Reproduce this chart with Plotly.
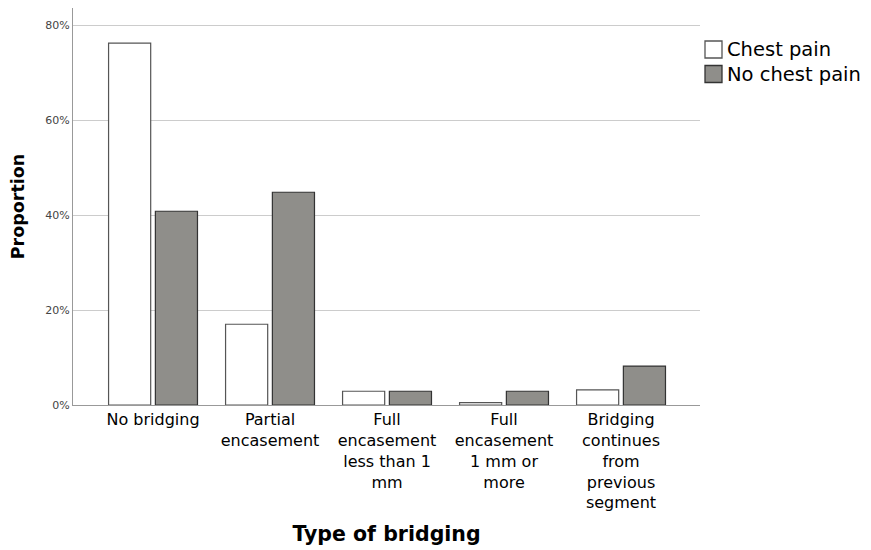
import plotly.graph_objects as go

categories = ["No bridging", "Partial<br>encasement", "Full<br>encasement<br>less than 1<br>mm",
              "Full<br>encasement<br>1 mm or<br>more", "Bridging<br>continues<br>from<br>previous<br>segment"]
series_names = ["Chest pain", "No chest pain"]
chest_pain = [0.762, 0.170, 0.029, 0.005, 0.032]
no_chest_pain = [0.408, 0.448, 0.029, 0.029, 0.082]
y_ticks = [0, 0.2, 0.4, 0.6, 0.8]
y_tick_labels = ["0%", "20%", "40%", "60%", "80%"]

fills = ["white", "#8f8e8a"]
outlines = ["#555555", "#333333"]

fig = go.Figure()
for name, vals, fc, lc in zip(series_names, [chest_pain, no_chest_pain], fills, outlines):
    fig.add_trace(go.Bar(name=name, x=categories, y=vals,
                         marker=dict(color=fc, line=dict(color=lc, width=1.2))))

# manual legend (boxes + text) placed at the right of the plot
W, H = 863, 542      # page has an 8px body margin
L, R, T, B = 65, 171, 0, 145
pw, ph = W - L - R, H - T - B
def px_x(x):  # window px -> paper x
    return (x - 8 - L) / pw
def px_y(y):  # window px -> paper y
    return 1 - (y - 8 - T) / ph

for i, (name, fc, lc) in enumerate(zip(series_names, fills, outlines)):
    y0 = 41 + i * 24.5
    fig.add_shape(type="rect", xref="paper", yref="paper",
                  x0=px_x(705), x1=px_x(722), y0=px_y(y0 + 17), y1=px_y(y0),
                  fillcolor=fc, line=dict(color=lc, width=1.3))
    fig.add_annotation(xref="paper", yref="paper", x=px_x(725), y=px_y(y0 + 8.5),
                       text=name, showarrow=False, xanchor="left", yanchor="middle",
                       font=dict(size=19.5, color="black"))

fig.update_layout(
    width=W, height=H,
    barmode="group", bargap=0.2, bargroupgap=0.1,
    plot_bgcolor="white", paper_bgcolor="white",
    margin=dict(l=L, r=R, t=T, b=B),
    font=dict(family="DejaVu Sans", color="black"),
    showlegend=False,
    xaxis=dict(range=[-0.684, 4.675], showline=True, linecolor="#999999", linewidth=1,
               ticks="", tickfont=dict(size=16, color="black"), tickangle=0,
               title=dict(text="<b>Type of bridging</b>", font=dict(size=20.5), standoff=15)),
    yaxis=dict(range=[0, 0.836], tickvals=y_ticks, ticktext=y_tick_labels,
               showline=True, linecolor="#999999", linewidth=1,
               showgrid=True, gridcolor="#cccccc", gridwidth=1, zeroline=False,
               tickfont=dict(size=11, color="#444444"),
               title=dict(text="<b>Proportion</b>", font=dict(size=17.5), standoff=18)),
)
fig.write_html("out.html")
